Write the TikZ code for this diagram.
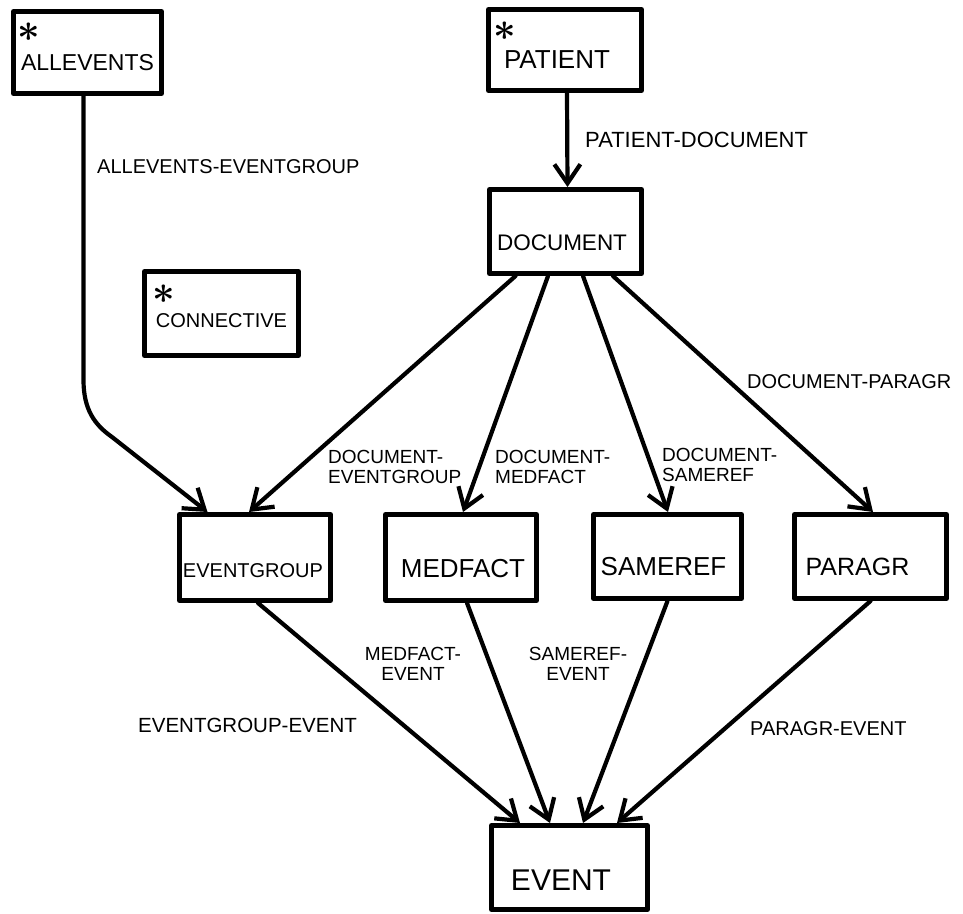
\documentclass[tikz,border=0pt]{standalone}
\usepackage{graphicx}
\usepackage{fontspec}
\setmainfont{Liberation Sans}
\usetikzlibrary{arrows.meta}
% box text: size, horizontal shift, vertical raise, text
\newcommand\bxt[4]{{\fontsize{#1}{#1}\selectfont\raisebox{#3}[0pt][0pt]{\makebox[0pt][c]{\kern#2\relax#4\kern-#2\relax}}}}
% asterisk mark at horizontal shift, vertical raise
\newcommand\astat[2]{\raisebox{#2}[0pt][0pt]{\makebox[0pt][l]{\kern#1\relax{\fontsize{20}{20}\selectfont\scalebox{1.9}{\boldmath$\ast$}}}}}
\begin{document}
\begin{tikzpicture}[x=1pt,y=-1pt,
  boxnode/.style={draw, line width=5pt, rectangle, inner sep=0pt, line join=round},
  arr/.style={line width=4.2pt, line cap=round, line join=round,
    -{Straight Barb[length=19pt,width=26pt,line width=4.2pt]}},
  elbl/.style={inner sep=0pt, font=\fontsize{20}{20}\selectfont},
  elbltwo/.style={inner sep=0pt, font=\fontsize{19}{20}\selectfont}]
\useasboundingbox (0,0) rectangle (963,913);
\fill[white] (0,0) rectangle (963,913);

% boxes
\node[boxnode, minimum width=148, minimum height=82] (allev) at (87.5,52.5)
  {\astat{-70pt}{11.5pt}\bxt{23}{0pt}{-17.5pt}{ALLEVENTS}};
\node[boxnode, minimum width=153, minimum height=81] (pat) at (565,50)
  {\astat{-72pt}{10pt}\bxt{26}{-8pt}{-18pt}{PATIENT}};
\node[boxnode, minimum width=152, minimum height=84] (doc) at (565.5,231.5)
  {\bxt{22.5}{-3.5pt}{-18.5pt}{DOCUMENT}};
\node[boxnode, minimum width=154, minimum height=84] (conn) at (221.5,313.5)
  {\astat{-69pt}{10.5pt}\bxt{20}{0pt}{-13.5pt}{CONNECTIVE}};
\node[boxnode, minimum width=151, minimum height=86] (evg) at (255,557.5)
  {\bxt{20}{-2pt}{-19.5pt}{EVENTGROUP}};
\node[boxnode, minimum width=151, minimum height=86] (med) at (461,557.5)
  {\bxt{26}{2pt}{-19.5pt}{MEDFACT}};
\node[boxnode, minimum width=148, minimum height=84] (same) at (667.5,556.5)
  {\bxt{26}{-4pt}{-18.5pt}{SAMEREF}};
\node[boxnode, minimum width=152, minimum height=84] (para) at (870.5,556.5)
  {\bxt{25}{-13pt}{-18.5pt}{PARAGR}};
\node[boxnode, minimum width=156, minimum height=84] (event) at (569.5,867.5)
  {\bxt{30}{-8.5pt}{-22.5pt}{EVENT}};

% bend coordinates of the ALLEVENTS connector
\coordinate (a1) at (83.5,380);
\coordinate (a2) at (83.5,410);
\coordinate (a3) at (95,425);
\coordinate (a4) at (112,437);

% connectors
\draw[arr] ([xshift=-4pt]allev.south) -- (a1) .. controls (a2) and (a3) .. (a4) -- ([xshift=-47.5pt]evg.north);
\draw[arr] ([xshift=2pt]pat.south) -- ([xshift=2pt]doc.north);
\draw[arr] ([xshift=-50pt]doc.south) -- ([xshift=-6pt]evg.north);
\draw[arr] ([xshift=-17.5pt]doc.south) -- ([xshift=2pt]med.north);
\draw[arr] ([xshift=17.5pt]doc.south) -- ([xshift=0.5pt]same.north);
\draw[arr] ([xshift=47.5pt]doc.south) -- ([xshift=2.5pt]para.north);
\draw[arr] ([xshift=3pt]evg.south) -- ([xshift=-49.5pt]event.north);
\draw[arr] ([xshift=6pt]med.south) -- ([xshift=-19.5pt]event.north);
\draw[arr] (same.south) -- ([xshift=13.5pt]event.north);
\draw[arr] (para.south) -- ([xshift=47.5pt]event.north);

% connector labels
\node[elbl, anchor=base west] (l1) at (97,173) {ALLEVENTS-EVENTGROUP};
\node[elbl, anchor=base west, font=\fontsize{22}{22}\selectfont] (l2) at (585,147) {PATIENT-DOCUMENT};
\node[elbl, anchor=base west] (l3) at (747,388) {DOCUMENT-PARAGR};
\node[elbltwo, anchor=north west, align=left] (l4) at (328,450) {DOCUMENT-\\EVENTGROUP};
\node[elbltwo, anchor=north west, align=left] (l5) at (495,450) {DOCUMENT-\\MEDFACT};
\node[elbltwo, anchor=north west, align=left] (l6) at (662,448) {DOCUMENT-\\SAMEREF};
\node[elbltwo, anchor=north, align=center] (l7) at (413,647) {MEDFACT-\\EVENT};
\node[elbltwo, anchor=north, align=center] (l8) at (578,647) {SAMEREF-\\EVENT};
\node[elbl, anchor=base west, font=\fontsize{20.5}{20.5}\selectfont] (l9) at (138,732) {EVENTGROUP-EVENT};
\node[elbl, anchor=base west] (l10) at (750,735) {PARAGR-EVENT};
\end{tikzpicture}
\end{document}
